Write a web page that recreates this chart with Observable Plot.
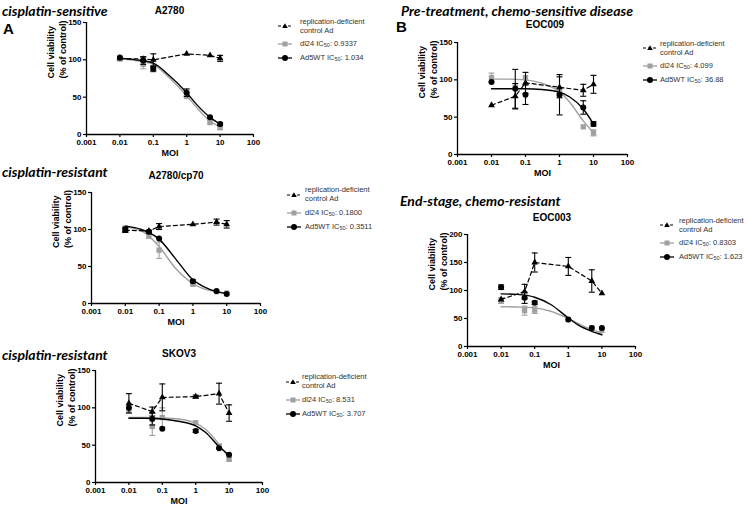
<!DOCTYPE html>
<html>
<head>
<meta charset="utf-8">
<script src="https://cdn.jsdelivr.net/npm/d3@7"></script>
<script src="https://cdn.jsdelivr.net/npm/@observablehq/plot@0.6"></script>
<style>
  html, body { margin: 0; padding: 0; background: #fff; }
  #root { position: relative; width: 748px; height: 508px; overflow: hidden; background: #fff; }
  .abs { position: absolute; white-space: nowrap; }
  .hdr { font-family: "Liberation Sans Narrow", "Lato", sans-serif; font-weight: bold; font-style: italic; font-size: 14px; color: #000; transform: translateY(-50%); }
  .letter { font-family: "Liberation Sans", Arial, sans-serif; font-weight: bold; font-size: 15px; color: #000; transform: translateY(-50%); }
  .ttl { font-family: "Liberation Sans", Arial, sans-serif; font-weight: bold; font-size: 10px; color: #000; transform: translate(-50%, -50%); }
  .lg { font-family: "Liberation Sans", Arial, sans-serif; font-size: 7.5px; color: #333; line-height: 9px; transform: translateY(-50%); }
  .lg sub { font-size: 5.5px; vertical-align: -1px; }
  .plotbox svg { max-width: none !important; }
</style>
</head>
<body>
<div id="root"></div>
<script>
// ---------- data ----------
const moi = [0.01, 0.05, 0.1, 1, 5, 10];
const curveMoi = [0.01, 0.03, 0.1, 0.3, 1, 2, 5, 10];
const xTicks = [0.001, 0.01, 0.1, 1, 10, 100];
const yTicks150 = [0, 50, 100, 150];
const yTicks200 = [0, 50, 100, 150, 200];

// A2780
const a2780Ctrl = [102, 101, 100, 108, 106, 102];
const a2780CtrlErr = [0, 3, 8, 0, 0, 4];
const a2780Dl24 = [101, 94, 87, 51, 16, 9];
const a2780Dl24Err = [0, 6, 3, 2, 2, 2];
const a2780Ad5 = [103, 99, 88, 56, 23, 14];
const a2780Ad5Err = [0, 5, 3, 5, 0, 2];
const a2780Dl24Fit = [101, 99, 94, 76, 52, 36, 18, 10];
const a2780Ad5Fit = [102, 100, 95.5, 79, 56, 40, 23, 14];

// A2780/cp70
const cp70Ctrl = [99, 98, 104, 107, 110, 107];
const cp70CtrlErr = [3, 0, 4, 0, 4, 5];
const cp70Dl24 = [102, 92, 72, 26, 16, 14];
const cp70Dl24Err = [0, 4, 11, 2, 0, 0];
const cp70Ad5 = [100, 97, 88, 30, 17, 13];
const cp70Ad5Err = [3, 2, 0, 2, 0, 0];
const cp70Dl24Fit = [103.6, 98, 77, 48, 27, 20, 16, 14];
const cp70Ad5Fit = [104.5, 100, 87, 61, 32, 23, 16, 13.5];

// SKOV3
const skov3Ctrl = [106, 95, 114, 115, 119, 93];
const skov3CtrlErr = [13, 6, 18, 2, 14, 11];
const skov3Dl24 = [96, 75, 87, 80, 49, 31];
const skov3Dl24Err = [0, 12, 13, 0, 2, 2];
const skov3Ad5 = [100, 85, 72, 69, 46, 37];
const skov3Ad5Err = [0, 8, 0, 2, 0, 0];
const skov3Dl24Fit = [87, 87, 86.5, 85, 79.5, 71, 51, 32];
const skov3Ad5Fit = [86, 86, 85, 82, 76, 67, 48, 37];

// EOC009
const eoc009Ctrl = [66, 78, 96, 90, 86, 94];
const eoc009CtrlErr = [0, 17, 14, 14, 8, 12];
const eoc009Dl24 = [103, 90, 103, 85, 37, 29];
const eoc009Dl24Err = [6, 0, 0, 0, 0, 4];
const eoc009Ad5 = [97, 88, 80, 80, 63, 41];
const eoc009Ad5Err = [0, 26, 13, 27, 9, 3];
const eoc009Dl24Fit = [101, 101, 100, 95.5, 84, 70, 45, 29];
const eoc009Ad5Fit = [88, 88, 88, 87, 83.5, 77, 61, 41];

// EOC003
const eoc003Ctrl = [84, 98, 150, 143, 117, 95];
const eoc003CtrlErr = [0, 13, 17, 16, 20, 0];
const eoc003Dl24 = [82, 64, 65, 48, 33, 29];
const eoc003Dl24Err = [5, 8, 6, 0, 0, 0];
const eoc003Ad5 = [106, 87, 78, 48, 33, 33];
const eoc003Ad5Err = [4, 10, 3, 0, 0, 0];
const eoc003Dl24Fit = [71, 70.5, 69, 63, 50, 41, 30, 24.5];
const eoc003Ad5Fit = [94, 93, 88, 75, 51, 38, 27, 21];

const panelTitles = ["A2780", "A2780/cp70", "SKOV3", "EOC009", "EOC003"];
const dl24IC50 = ["0.9337", "0.1800", "8.531", "4.099", "0.8303"];
const ad5IC50 = ["1.034", "0.3511", "3.707", "36.88", "1.623"];
const controlLabel = ["replication-deficient", "control Ad"];

// ---------- layout / style ----------
const GRAY = "#a0a0a0";
const ML = 60, MR = 6, MT = 8, MB = 36;

const panels = [
  {px: 86, py: 22, w: 167, h: 112, ymax: 150, yt: yTicks150, ctrl: a2780Ctrl, ctrlE: a2780CtrlErr, dl: a2780Dl24, dlE: a2780Dl24Err, ad: a2780Ad5, adE: a2780Ad5Err, dlFit: a2780Dl24Fit, adFit: a2780Ad5Fit,
   tx: 169.5, ty: 10, lgIcon: 278, lgText: 300, lgY: 25.5},
  {px: 91, py: 192, w: 169, h: 111, ymax: 150, yt: yTicks150, ctrl: cp70Ctrl, ctrlE: cp70CtrlErr, dl: cp70Dl24, dlE: cp70Dl24Err, ad: cp70Ad5, adE: cp70Ad5Err, dlFit: cp70Dl24Fit, adFit: cp70Ad5Fit,
   tx: 176, ty: 175, lgIcon: 287, lgText: 305, lgY: 194},
  {px: 95, py: 370, w: 167, h: 112, ymax: 150, yt: yTicks150, ctrl: skov3Ctrl, ctrlE: skov3CtrlErr, dl: skov3Dl24, dlE: skov3Dl24Err, ad: skov3Ad5, adE: skov3Ad5Err, dlFit: skov3Dl24Fit, adFit: skov3Ad5Fit,
   tx: 179, ty: 353, lgIcon: 286, lgText: 302, lgY: 381},
  {px: 457, py: 42, w: 170, h: 112, ymax: 150, yt: yTicks150, ctrl: eoc009Ctrl, ctrlE: eoc009CtrlErr, dl: eoc009Dl24, dlE: eoc009Dl24Err, ad: eoc009Ad5, adE: eoc009Ad5Err, dlFit: eoc009Dl24Fit, adFit: eoc009Ad5Fit,
   tx: 545, ty: 24, lgIcon: 643, lgText: 660, lgY: 47.5},
  {px: 467, py: 234, w: 168, h: 112, ymax: 200, yt: yTicks200, ctrl: eoc003Ctrl, ctrlE: eoc003CtrlErr, dl: eoc003Dl24, dlE: eoc003Dl24Err, ad: eoc003Ad5, adE: eoc003Ad5Err, dlFit: eoc003Dl24Fit, adFit: eoc003Ad5Fit,
   tx: 552, ty: 217, lgIcon: 660, lgText: 679, lgY: 224.5}
];

const capSymbol = {
  draw(ctx, size) {
    const r = Math.sqrt(size / Math.PI);
    ctx.moveTo(-r, 0);
    ctx.lineTo(r, 0);
  }
};

function rows(vals, errs) { return moi.map((x, i) => ({x, y: vals[i], e: errs[i]})); }
function fitRows(vals) { return curveMoi.map((x, i) => ({x, y: vals[i]})); }

function seriesMarks(data, fit, color, symbol, r, dashed) {
  const err = data.filter(d => d.e > 0);
  const marks = [
    Plot.ruleX(err, {x: "x", y1: d => d.y - d.e, y2: d => d.y + d.e, stroke: color, strokeWidth: 1.1}),
    Plot.dot(err, {x: "x", y: d => d.y + d.e, symbol: capSymbol, r: 3, stroke: color, fill: "none", strokeWidth: 1.1}),
    Plot.dot(err, {x: "x", y: d => d.y - d.e, symbol: capSymbol, r: 3, stroke: color, fill: "none", strokeWidth: 1.1})
  ];
  if (fit) marks.push(Plot.line(fit, {x: "x", y: "y", stroke: color, strokeWidth: 1.4, curve: "monotone-x"}));
  if (dashed) marks.push(Plot.line(data, {x: "x", y: "y", stroke: color, strokeWidth: 1.2, strokeDasharray: "4,3"}));
  marks.push(Plot.dot(data, {x: "x", y: "y", symbol, r, fill: color, stroke: "none"}));
  return marks;
}

function makePlot(p) {
  return Plot.plot({
    width: ML + p.w + MR,
    height: MT + p.h + MB,
    marginLeft: ML, marginRight: MR, marginTop: MT, marginBottom: MB,
    style: {fontFamily: "'Liberation Sans', Arial, sans-serif", fontSize: "8px", fontWeight: "bold", color: "#000", background: "transparent", overflow: "visible"},
    x: {type: "log", domain: [0.001, 100]},
    y: {domain: [0, p.ymax]},
    marks: [
      Plot.axisX(xTicks, {tickFormat: d => String(d), tickSize: 3, tickPadding: 2, label: null, strokeWidth: 1.2}),
      Plot.axisY(p.yt, {tickSize: 3, tickPadding: 2, label: null, strokeWidth: 1.2}),
      Plot.ruleY([0], {stroke: "#000", strokeWidth: 1.3}),
      Plot.ruleX([0.001], {stroke: "#000", strokeWidth: 1.3}),
      Plot.text(["MOI"], {text: d => d, frameAnchor: "bottom", dy: 21, fontSize: 9}),
      Plot.text(["Cell viability\n(% of control)"], {text: d => d, frameAnchor: "left", rotate: -90, dx: -30, lineHeight: 1.35, fontSize: 9}),
      ...seriesMarks(rows(p.dl, p.dlE), fitRows(p.dlFit), GRAY, "square", 3, false),
      ...seriesMarks(rows(p.ad, p.adE), fitRows(p.adFit), "#000", "circle", 3, false),
      ...seriesMarks(rows(p.ctrl, p.ctrlE), null, "#000", "triangle", 2.5, true)
    ]
  });
}

const root = document.getElementById("root");

function addDiv(cls, left, top, html) {
  const d = document.createElement("div");
  d.className = "abs " + cls;
  d.style.left = left + "px";
  d.style.top = top + "px";
  d.innerHTML = html;
  root.appendChild(d);
  return d;
}

function icon(kind) {
  if (kind === "ctrl") return `<svg width="14" height="8" style="display:block"><line x1="0" y1="4" x2="14" y2="4" stroke="#000" stroke-width="1.1" stroke-dasharray="3,2"/><path d="M7,1.2 L9.8,6 L4.2,6 Z" fill="#000"/></svg>`;
  if (kind === "dl") return `<svg width="14" height="8" style="display:block"><line x1="0" y1="4" x2="14" y2="4" stroke="${GRAY}" stroke-width="1.3"/><rect x="4.5" y="1.5" width="5" height="5" fill="${GRAY}"/></svg>`;
  return `<svg width="14" height="8" style="display:block"><line x1="0" y1="4" x2="14" y2="4" stroke="#000" stroke-width="1.3"/><circle cx="7" cy="4" r="3" fill="#000"/></svg>`;
}

panels.forEach((p, i) => {
  const box = document.createElement("div");
  box.className = "abs plotbox";
  box.style.left = (p.px - ML) + "px";
  box.style.top = (p.py - MT) + "px";
  box.style.width = (ML + p.w + MR) + "px";
  box.appendChild(makePlot(p));
  root.appendChild(box);

  addDiv("ttl", p.tx, p.ty, panelTitles[i]);

  // legend
  addDiv("lg", p.lgIcon, p.lgY + 0.5, icon("ctrl"));
  addDiv("lg", p.lgText, p.lgY, controlLabel.join("<br>"));
  addDiv("lg", p.lgIcon, p.lgY + 18.5, icon("dl"));
  addDiv("lg", p.lgText, p.lgY + 18.5, `dl24 IC<sub>50</sub>: ${dl24IC50[i]}`);
  addDiv("lg", p.lgIcon, p.lgY + 32.5, icon("ad"));
  addDiv("lg", p.lgText, p.lgY + 32.5, `Ad5WT IC<sub>50</sub>: ${ad5IC50[i]}`);
});

// headers
addDiv("hdr", 2, 10, "cisplatin-sensitive");
addDiv("letter", 3, 28, "A");
addDiv("hdr", 2, 171, "cisplatin-resistant");
addDiv("hdr", 2, 354, "cisplatin-resistant");
addDiv("hdr", 401, 10, "Pre-treatment, chemo-sensitive disease");
addDiv("letter", 396, 26, "B");
addDiv("hdr", 400, 200, "End-stage, chemo-resistant");
</script>
</body>
</html>
